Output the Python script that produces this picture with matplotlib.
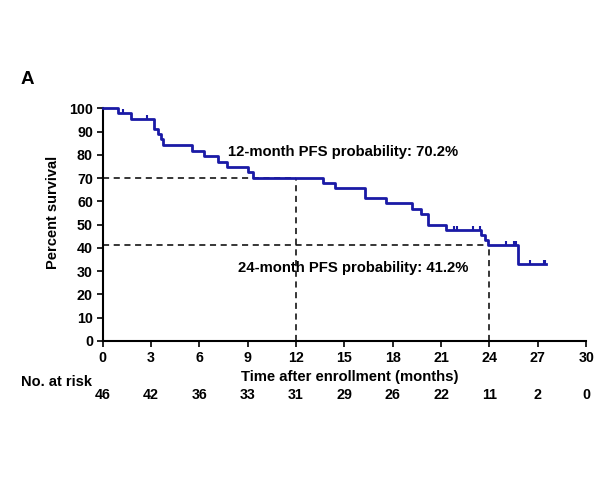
import matplotlib.pyplot as plt
from matplotlib.transforms import blended_transform_factory

# Kaplan-Meier steps (months, percent)
step_times = [0, 0.95, 1.74, 3.18, 3.45, 3.6, 3.76, 5.52, 6.28, 7.15, 7.73, 9.0, 9.34,
              13.68, 14.44, 16.3, 17.56, 19.2, 19.78, 20.19, 21.3, 23.5, 23.74, 23.89, 25.74, 27.5]
step_surv = [100, 97.8, 95.4, 91.1, 88.9, 86.7, 84.1, 81.7, 79.3, 77.0, 74.8, 72.5, 70.2,
             68.0, 65.8, 61.3, 59.1, 56.8, 54.6, 50.0, 47.7, 45.6, 43.6, 41.2, 33.0, 33.0]
censor_times = [1.24, 2.77, 21.78, 21.99, 22.98, 23.39, 25.05, 25.5, 25.66, 26.49, 27.36, 27.46]

landmarks = [12, 24]
landmark_pfs = [70.2, 41.2]

risk_times = [0, 3, 6, 9, 12, 15, 18, 21, 24, 27, 30]
at_risk = [46, 42, 36, 33, 31, 29, 26, 22, 11, 2, 0]

plt.rcParams['font.family'] = ['Liberation Sans', 'DejaVu Sans']
plt.rcParams['font.weight'] = 'bold'
blue = '#1a1aa6'


def surv_at(t):
    val = step_surv[0]
    for tt, s in zip(step_times, step_surv):
        if tt <= t:
            val = s
    return val


fig = plt.figure(figsize=(6, 4.8), dpi=100)
ax = fig.add_axes([0.171, 0.2896, 0.806, 0.4847])

# dashed landmark lines
for t, p in zip(landmarks, landmark_pfs):
    ax.plot([0, t], [p, p], color='black', ls=(0, (4, 3)), lw=1.1, zorder=1)
    ax.plot([t, t], [0, p], color='black', ls=(0, (4, 3)), lw=1.1, zorder=1)

# the curve
ax.step(step_times, step_surv, where='post', color=blue, lw=2, zorder=3, clip_on=False)
ax.plot(censor_times, [surv_at(t) for t in censor_times], ls='none', marker=2,
        ms=3, mew=1.5, color=blue, zorder=3, clip_on=False)

ax.text(14.9, 81.2, '12-month PFS probability: 70.2%', ha='center', va='center',
        fontsize=10.7, fontweight='bold')
ax.text(15.55, 31.4, '24-month PFS probability: 41.2%', ha='center', va='center',
        fontsize=10.7, fontweight='bold')

ax.set_xlim(0, 30)
ax.set_ylim(0, 100)
ax.set_xticks(risk_times)
ax.set_yticks(range(0, 101, 10))
ax.tick_params(direction='out', length=4, width=1.2, labelsize=10.3, pad=3)
for lab in ax.get_xticklabels() + ax.get_yticklabels():
    lab.set_fontweight('bold')
for s in ['top', 'right']:
    ax.spines[s].set_visible(False)
for s in ['left', 'bottom']:
    ax.spines[s].set_linewidth(1.5)

# labels and number-at-risk row
fig.text(350 / 600, 1 - 377 / 480, 'Time after enrollment (months)', ha='center', va='center',
         fontsize=10.7, fontweight='bold')
fig.text(53 / 600, 1 - 212 / 480, 'Percent survival', rotation=90, ha='center', va='center',
         fontsize=10.5, fontweight='bold')
fig.text(0.035, 1 - 80 / 480, 'A', ha='left', va='center', fontsize=13.5, fontweight='bold')
fig.text(0.035, 1 - 382 / 480, 'No. at risk', ha='left', va='center', fontsize=10.5,
         fontweight='bold')
row = blended_transform_factory(ax.transData, fig.transFigure)
for t, n in zip(risk_times, at_risk):
    ax.text(t, 1 - 395 / 480, str(n), ha='center', va='center', fontsize=10.3,
            fontweight='bold', transform=row)

fig.savefig('out.png', dpi=100, facecolor='white')
